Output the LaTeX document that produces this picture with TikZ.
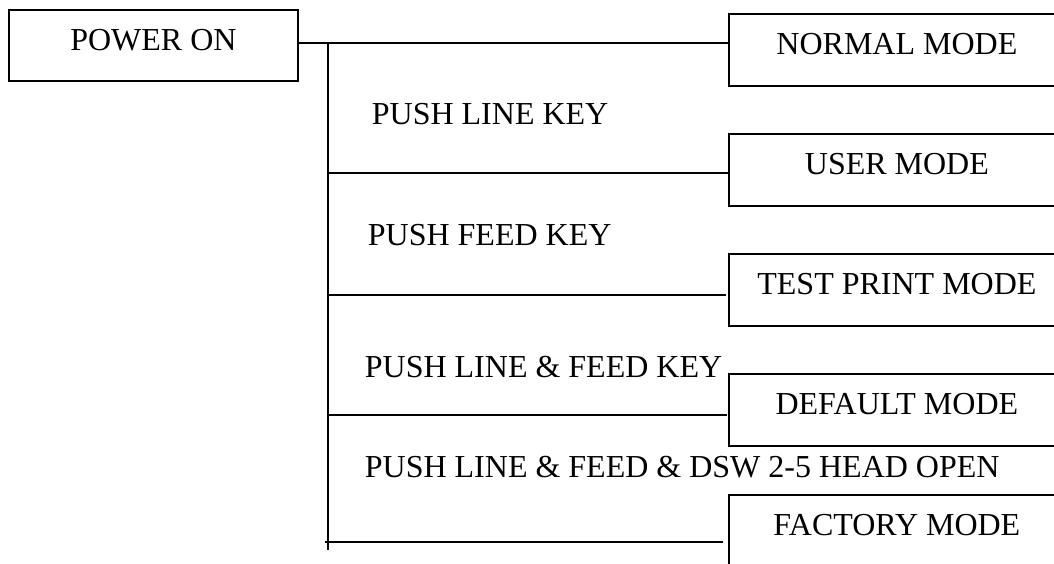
\documentclass[tikz,border=0pt]{standalone}
\usepackage{fontspec}
\setmainfont{Liberation Serif}
\begin{document}
\begin{tikzpicture}[x=1pt,y=-1pt,
  line width=1.8pt,
  modebox/.style={draw, rectangle, inner sep=0pt, minimum width=336pt,
    text height=41pt, text depth=31pt, anchor=north west,
    font=\fontsize{32}{38}\selectfont},
  keylabel/.style={inner sep=0pt, anchor=base west, font=\fontsize{32}{38}\selectfont},
  link/.style={line width=1.8pt}]
\useasboundingbox (0,0) rectangle (1054,564);
\clip (0,0) rectangle (1054,564);
\fill[white] (0,0) rectangle (1054,564);
% source box
\node[draw, rectangle, inner sep=0pt, minimum width=289pt, text height=41pt, text depth=30pt,
  anchor=north west, font=\fontsize{32}{38}\selectfont] (power) at (8,9) {POWER ON};
% mode boxes
\node[modebox] (normal)  at (728,13)  {NORMAL MODE};
\node[modebox] (user)    at (728,133) {USER MODE};
\node[modebox] (test)    at (728,253) {TEST PRINT MODE};
\node[modebox] (default) at (728,373) {DEFAULT MODE};
\node[modebox] (factory) at (728,494) {FACTORY MODE};
% key labels
\node[keylabel] (k1) at (371,125) {PUSH LINE KEY};
\node[keylabel] (k2) at (367,245) {PUSH FEED KEY};
\node[keylabel] (k3) at (364,377) {PUSH LINE \& FEED KEY};
\node[keylabel] (k4) at (364,477) {PUSH LINE \& FEED \& DSW 2-5 HEAD OPEN};
% trunk coordinates
\coordinate (t0) at (328,43);
\coordinate (t1) at (328,173);
\coordinate (t2) at (328,295);
\coordinate (t3) at (328,415);
\coordinate (t4) at (328,542);
\coordinate (tend) at (328,550);
\coordinate (t4l) at (325,542);
% connectors
\draw[link] (power.east |- t0) -- (t0 -| normal.west);
\draw[link] (t0) -- (tend);
\draw[link] (t1) -- (t1 -| user.west);
\draw[link, shorten >=2pt] (t2) -- (t2 -| test.west);
\draw[link, shorten >=1pt] (t3) -- (t3 -| default.west);
\draw[link, shorten >=5pt] (t4l) -- (t4 -| factory.west);
\end{tikzpicture}
\end{document}
